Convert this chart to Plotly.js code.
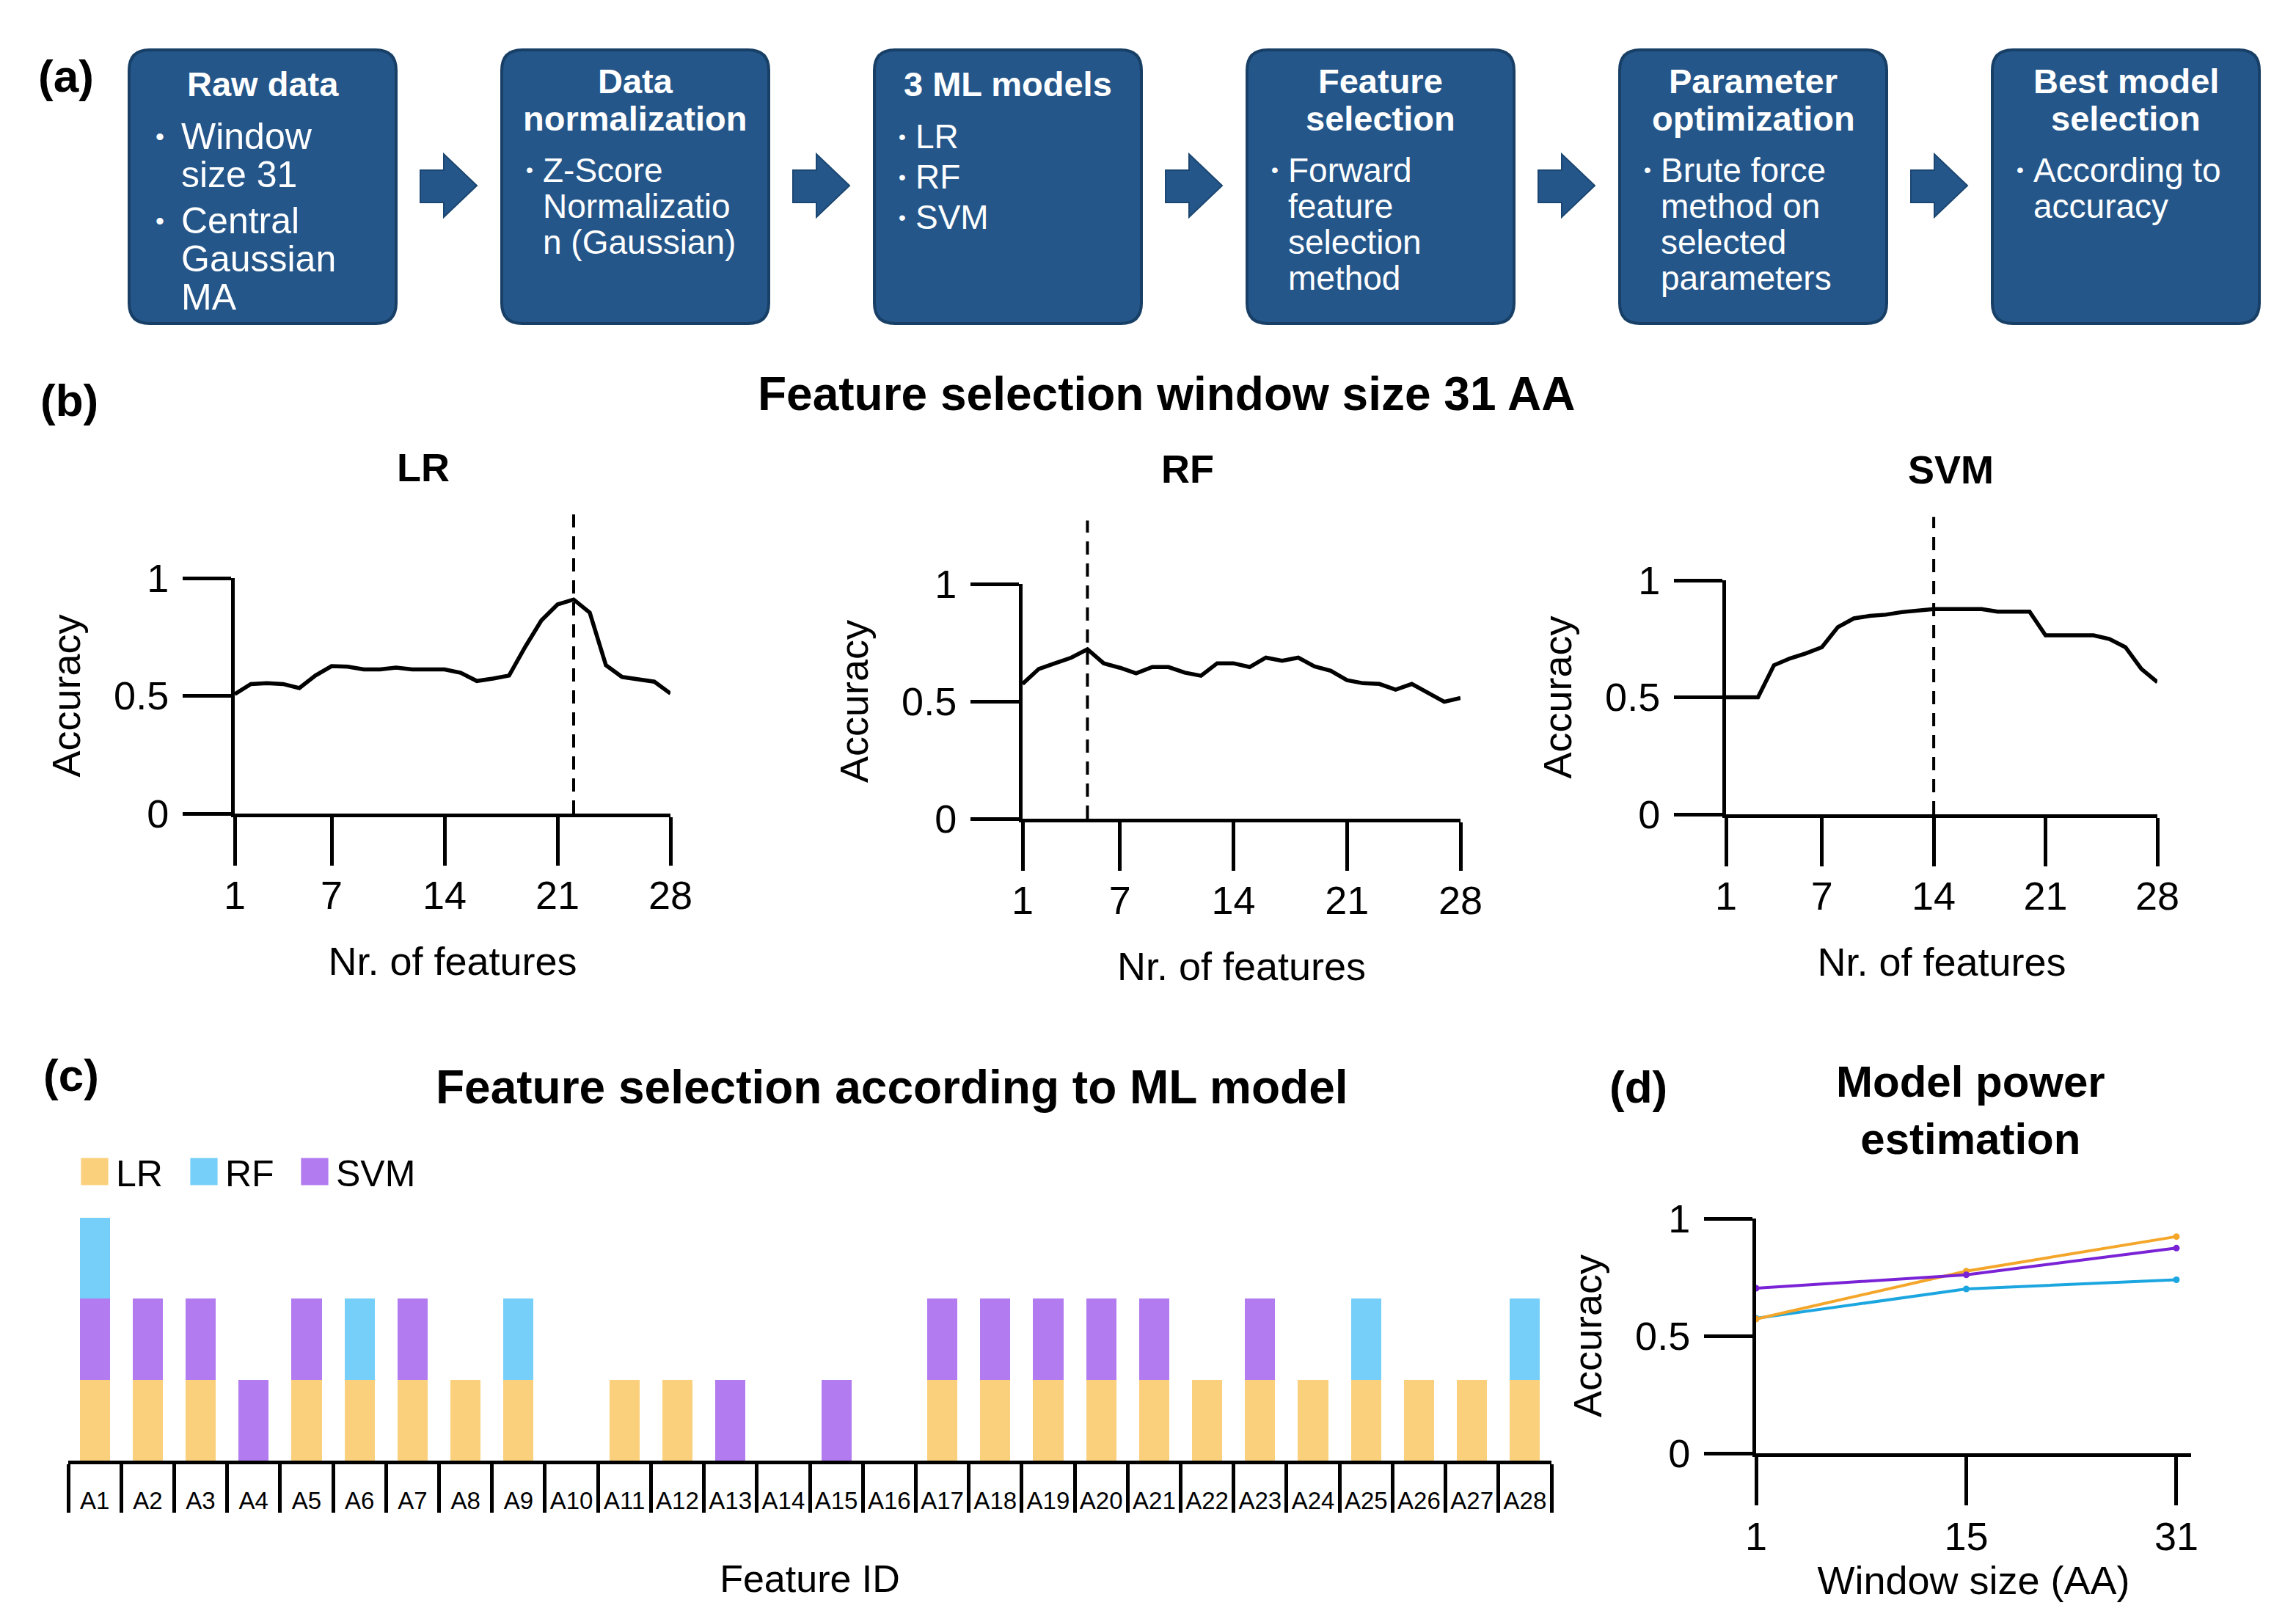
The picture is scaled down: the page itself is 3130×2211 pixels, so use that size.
<!DOCTYPE html>
<html><head><meta charset="utf-8">
<script src="https://cdn.plot.ly/plotly-3.0.1.min.js"></script>
<style>html,body{margin:0;padding:0;background:#fff}</style>
</head><body>
<div id="chart" style="width:3130px;height:2211px"></div>
<script>
// ---------------- data ----------------
const nFeatures = [1,2,3,4,5,6,7,8,9,10,11,12,13,14,15,16,17,18,19,20,21,22,23,24,25,26,27,28];
const accLR  = [0.507,0.55,0.554,0.55,0.533,0.586,0.626,0.624,0.612,0.612,0.62,0.612,0.612,0.612,0.598,0.563,0.573,0.586,0.708,0.82,0.888,0.909,0.853,0.63,0.58,0.568,0.56,0.51];
const accRF  = [0.574,0.638,0.662,0.686,0.722,0.662,0.643,0.619,0.646,0.646,0.622,0.609,0.662,0.662,0.646,0.686,0.673,0.686,0.649,0.63,0.59,0.577,0.574,0.55,0.574,0.534,0.498,0.514];
const accSVM = [0.5,0.5,0.5,0.637,0.666,0.688,0.714,0.80,0.837,0.848,0.853,0.864,0.869,0.877,0.877,0.877,0.877,0.866,0.866,0.866,0.765,0.765,0.765,0.765,0.749,0.714,0.621,0.565];
const bestLR = 22, bestRF = 5, bestSVM = 14;
const featureTicks = [1,7,14,21,28];
const accTicks = [0,0.5,1];
const accTickText = ['0','0.5','1'];

const featureIds = ['A1','A2','A3','A4','A5','A6','A7','A8','A9','A10','A11','A12','A13','A14','A15','A16','A17','A18','A19','A20','A21','A22','A23','A24','A25','A26','A27','A28'];
const selLR  = [1,1,1,0,1,1,1,1,1,0,1,1,0,0,0,0,1,1,1,1,1,1,1,1,1,1,1,1];
const selSVM = [1,1,1,1,1,0,1,0,0,0,0,0,1,0,1,0,1,1,1,1,1,0,1,0,0,0,0,0];
const selRF  = [1,0,0,0,0,1,0,0,1,0,0,0,0,0,0,0,0,0,0,0,0,0,0,0,1,0,0,1];

const windowSizes = ['1','15','31'];
const powLR  = [0.572,0.776,0.923];
const powRF  = [0.575,0.700,0.739];
const powSVM = [0.703,0.760,0.874];

const boxTitles = [['Raw data'],['Data','normalization'],['3 ML models'],['Feature','selection'],['Parameter','optimization'],['Best model','selection']];
const boxBullets = [
  [['Window','size 31'],['Central','Gaussian','MA']],
  [['Z-Score','Normalizatio','n (Gaussian)']],
  [['LR'],['RF'],['SVM']],
  [['Forward','feature','selection','method']],
  [['Brute force','method on','selected','parameters']],
  [['According to','accuracy']]
];

// ---------------- helpers ----------------
const W = 3130, H = 2211;
const FONT = 'Liberation Sans, Arial, Helvetica, sans-serif';
const px = x => x / W;
const py = y => 1 - y / H;
const dx = (a, b) => [a / W, b / W];
const dy = (top, bottom) => [1 - bottom / H, 1 - top / H];

const colLR = '#FBD07C', colRF = '#76CFF8', colSVM = '#B27BEF';
const lineLR = '#F4A62A', lineRF = '#1CA6E0', lineSVM = '#7A22D6';

function ax(extra) {
  return Object.assign({
    showline: true, linewidth: 5, linecolor: '#000',
    ticks: 'outside', ticklen: 66, tickwidth: 5, tickcolor: '#000',
    showgrid: false, zeroline: false, fixedrange: true,
    tickfont: {size: 54, color: '#000', family: FONT}
  }, extra);
}
function featX(anchor, dom) {
  return ax({anchor: anchor, domain: dom, range: [1, 28], tickvals: featureTicks, ticklabelstandoff: -6,
    title: {text: 'Nr. of features', font: {size: 54}, standoff: 44}});
}
function accY(anchor, dom) {
  return ax({anchor: anchor, domain: dom, range: [0, 1], tickvals: accTicks, ticktext: accTickText, ticklabelstandoff: 8,
    title: {text: 'Accuracy', font: {size: 54}, standoff: 30}});
}

// ---------------- traces ----------------
const traces = [];
function fsLine(y, xa, ya) {
  traces.push({type: 'scatter', mode: 'lines', x: nFeatures, y: y, xaxis: xa, yaxis: ya,
    line: {color: '#000', width: 5.5}, showlegend: false, hoverinfo: 'skip'});
}
fsLine(accLR, 'x', 'y');
fsLine(accRF, 'x2', 'y2');
fsLine(accSVM, 'x3', 'y3');

traces.push({type: 'bar', name: 'LR', x: featureIds, y: selLR, xaxis: 'x4', yaxis: 'y4', marker: {color: colLR, line: {width: 0}}, legendrank: 1});
traces.push({type: 'bar', name: 'SVM', x: featureIds, y: selSVM, xaxis: 'x4', yaxis: 'y4', marker: {color: colSVM, line: {width: 0}}, legend: 'legend2'});
traces.push({type: 'bar', name: 'RF', x: featureIds, y: selRF, xaxis: 'x4', yaxis: 'y4', marker: {color: colRF, line: {width: 0}}, legendrank: 2});

function powLine(y, c) {
  traces.push({type: 'scatter', mode: 'lines+markers', x: windowSizes, y: y, xaxis: 'x5', yaxis: 'y5',
    line: {color: c, width: 4}, marker: {color: c, size: 9}, showlegend: false, hoverinfo: 'skip'});
}
powLine(powRF, lineRF);
powLine(powLR, lineLR);
powLine(powSVM, lineSVM);

// ---------------- shapes & annotations ----------------
const shapes = [];
const annotations = [];
function txt(text, x, y, size, opts) {
  annotations.push(Object.assign({text: text, x: px(x), y: py(y), xref: 'paper', yref: 'paper', showarrow: false,
    xanchor: 'center', yanchor: 'middle', font: {size: size, color: '#000', family: FONT}}, opts || {}));
}
function roundRect(x0, y0, x1, y1, r) {
  const X = px, Y = py;
  return 'M' + X(x0 + r) + ',' + Y(y0) + ' L' + X(x1 - r) + ',' + Y(y0) +
    ' Q' + X(x1) + ',' + Y(y0) + ' ' + X(x1) + ',' + Y(y0 + r) +
    ' L' + X(x1) + ',' + Y(y1 - r) + ' Q' + X(x1) + ',' + Y(y1) + ' ' + X(x1 - r) + ',' + Y(y1) +
    ' L' + X(x0 + r) + ',' + Y(y1) + ' Q' + X(x0) + ',' + Y(y1) + ' ' + X(x0) + ',' + Y(y1 - r) +
    ' L' + X(x0) + ',' + Y(y0 + r) + ' Q' + X(x0) + ',' + Y(y0) + ' ' + X(x0 + r) + ',' + Y(y0) + ' Z';
}

// panel (a) flow boxes
const BOX_L0 = 176, BOX_STEP = 508, BOX_W = 364, BOX_T = 68, BOX_B = 441;
for (let i = 0; i < boxTitles.length; i++) {
  const left = BOX_L0 + i * BOX_STEP;
  shapes.push({type: 'path', xref: 'paper', yref: 'paper', path: roundRect(left, BOX_T, left + BOX_W, BOX_B, 28),
    fillcolor: '#24568A', line: {color: '#183F66', width: 4}, layer: 'below'});
  const tl = boxTitles[i];
  const t0 = tl.length === 1 ? 115 : 111;
  tl.forEach((s, j) => txt('<b>' + s + '</b>', left + BOX_W / 2, t0 + j * 50, 47, {font: {size: 47, color: '#fff', family: FONT}}));
  let y = t0 + (tl.length - 1) * 50 + 71;
  const fs = i === 0 ? 50 : 46, lh = i === 0 ? 52 : 49, gap = i === 0 ? 11 : 6;
  const bOff = i === 0 ? 34 : 31, tOff = i === 0 ? 69 : 54;
  boxBullets[i].forEach(lines => {
    txt('•', left + bOff, y, i === 0 ? 34 : 28, {xanchor: 'left', font: {size: i === 0 ? 34 : 28, color: '#fff', family: FONT}});
    lines.forEach((s, k) => txt(s, left + tOff, y + k * lh, fs, {xanchor: 'left', font: {size: fs, color: '#fff', family: FONT}}));
    y += lines.length * lh + gap;
  });
  if (i < boxTitles.length - 1) {
    const a0 = left + BOX_W + 33, a1 = a0 + 32, tip = a0 + 77;
    const p = 'M' + px(a0) + ',' + py(232) + ' L' + px(a1) + ',' + py(232) + ' L' + px(a1) + ',' + py(210) +
      ' L' + px(tip) + ',' + py(253) + ' L' + px(a1) + ',' + py(296) + ' L' + px(a1) + ',' + py(276) +
      ' L' + px(a0) + ',' + py(276) + ' Z';
    shapes.push({type: 'path', xref: 'paper', yref: 'paper', path: p, fillcolor: '#24568A', line: {color: '#1B4671', width: 2}});
  }
}

// dashed "best" lines
[[bestLR, 'x', 'y'], [bestRF, 'x2', 'y2'], [bestSVM, 'x3', 'y3']].forEach(d => {
  shapes.push({type: 'line', xref: d[1], yref: d[2] + ' domain', x0: d[0], x1: d[0], y0: 0, y1: 1.27,
    line: {color: '#000', width: 4, dash: '18px,12px'}});
});

// titles and panel letters
txt('<b>(a)</b>', 90, 103, 62);
txt('<b>(b)</b>', 94, 545, 62);
txt('<b>(c)</b>', 97, 1465, 62);
txt('<b>(d)</b>', 2233, 1482, 62);
txt('<b>Feature selection window size 31 AA</b>', 1590, 537, 64);
txt('<b>LR</b>', 577, 637, 54);
txt('<b>RF</b>', 1619, 639, 54);
txt('<b>SVM</b>', 2659, 640, 54);
txt('<b>Feature selection according to ML model</b>', 1216, 1482, 64);
txt('<b>Model power<br>estimation</b>', 2686, 1513, 60);

const legendBase = {orientation: 'h', y: py(1558), xanchor: 'left', yanchor: 'top',
  font: {size: 50}, bgcolor: 'rgba(0,0,0,0)', itemwidth: 48, traceorder: 'normal', itemclick: false};

const layout = {
  width: W, height: H, margin: {l: 0, r: 0, t: 0, b: 0},
  paper_bgcolor: '#fff', plot_bgcolor: 'rgba(0,0,0,0)',
  font: {family: FONT, color: '#000', size: 52},
  barmode: 'stack', bargap: 0.43,
  showlegend: true,
  legend: Object.assign({x: px(100), entrywidth: 86, entrywidthmode: 'pixels'}, legendBase),
  legend2: Object.assign({x: px(400)}, legendBase),
  xaxis: featX('y', dx(320, 914)),
  yaxis: accY('x', dy(788, 1109)),
  xaxis2: featX('y2', dx(1394, 1991)),
  yaxis2: accY('x2', dy(796, 1116)),
  xaxis3: featX('y3', dx(2353, 2941)),
  yaxis3: accY('x3', dy(791, 1110)),
  xaxis4: ax({anchor: 'y4', domain: dx(93, 2115), type: 'category', tickson: 'boundaries', dtick: 1,
    tickfont: {size: 33, color: '#000'}, ticklabelstandoff: 21,
    title: {text: 'Feature ID', font: {size: 52}, standoff: 72}}),
  yaxis4: {anchor: 'x4', domain: dy(1660, 1991), range: [0, 3], visible: false, fixedrange: true},
  xaxis5: ax({anchor: 'y5', domain: dx(2394, 2987), type: 'category', range: [0, 2.07], ticklabelstandoff: -4,
    title: {text: 'Window size (AA)', font: {size: 54}, standoff: 12}}),
  yaxis5: accY('x5', dy(1661, 1981)),
  shapes: shapes,
  annotations: annotations
};

Plotly.newPlot('chart', traces, layout, {staticPlot: true, displayModeBar: false}).then(() => {
  document.querySelectorAll('.legendpoints path').forEach(p => {
    const t = p.getAttribute('transform') || '';
    p.setAttribute('transform', t + ' scale(3.1)');
  });
});
</script>
</body></html>
